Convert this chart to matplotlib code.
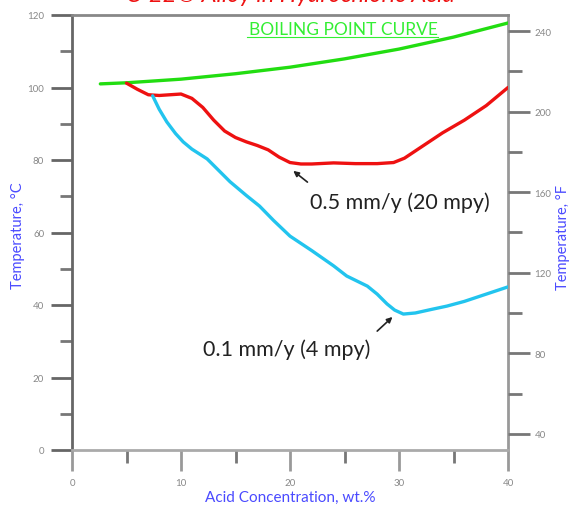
import matplotlib
matplotlib.use("Agg")
import matplotlib.pyplot as plt
from matplotlib.ticker import MultipleLocator

plt.rcParams['font.family'] = ['Lato', 'DejaVu Sans']

# Data (acid concentration wt.% , temperature degC)
boil_x = [2.6, 5, 10, 15, 20, 25, 30, 35, 40]
boil_t = [101.0, 101.3, 102.3, 103.8, 105.6, 107.9, 110.6, 113.9, 117.8]

red_x = [5.0, 6.0, 7.0, 8.0, 9.0, 10.0, 11.0, 12.0, 13.0, 14.0, 15.0, 16.0, 17.0, 18.0,
         19.0, 20.0, 21.0, 22.0, 24.0, 26.0, 28.0, 29.5, 30.5, 31.5, 32.5, 34.0, 36.0, 38.0, 40.0]
red_t = [101.2, 99.5, 98.0, 97.8, 98.0, 98.2, 97.0, 94.5, 91.0, 88.0, 86.2, 85.0, 84.0, 82.8,
         80.8, 79.3, 78.9, 78.9, 79.2, 79.0, 79.0, 79.3, 80.5, 82.5, 84.5, 87.5, 91.0, 95.0, 100.0]

cyan_x = [7.4, 8.0, 8.7, 9.5, 10.2, 11.0, 12.4, 13.0, 14.5, 16.0, 17.2, 18.5, 20.0, 22.0,
          24.0, 25.2, 27.1, 28.0, 28.9, 29.6, 30.4, 31.5, 33.0, 34.4, 36.0, 38.0, 40.0]
cyan_t = [97.7, 94.0, 90.5, 87.3, 85.0, 83.0, 80.3, 78.5, 74.0, 70.2, 67.3, 63.3, 59.0, 55.0,
          50.8, 48.0, 45.2, 43.0, 40.3, 38.6, 37.5, 37.8, 38.8, 39.7, 41.0, 43.0, 45.0]

fig = plt.figure(figsize=(5.7, 5.06), dpi=100)
ax = fig.add_axes([72/570, 55/506, 436/570, 435/506])

ax.plot(boil_x, boil_t, color='#22dd11', lw=2.4, solid_capstyle='round', zorder=3)
ax.plot(red_x, red_t, color='#ee1111', lw=2.4, solid_capstyle='round', zorder=3)
ax.plot(cyan_x, cyan_t, color='#22c4ee', lw=2.4, solid_capstyle='round', zorder=3)

ax.set_xlim(0, 40)
ax.set_ylim(0, 120)

ax.xaxis.set_major_locator(MultipleLocator(10))
ax.xaxis.set_minor_locator(MultipleLocator(5))
ax.yaxis.set_major_locator(MultipleLocator(20))
ax.yaxis.set_minor_locator(MultipleLocator(10))

ax.tick_params(axis='both', which='major', direction='out', length=15, width=2,
               colors='#888888', labelsize=7, labelcolor='#888888', pad=5)
ax.tick_params(axis='both', which='minor', direction='out', length=9, width=2,
               colors='#777777')
ax.tick_params(axis='x', which='major', color='#999999')
ax.tick_params(axis='y', which='major', color='#666666')

for side, c in [('left', '#666666'), ('top', '#888888'), ('bottom', '#aaaaaa'), ('right', '#999999')]:
    ax.spines[side].set_color(c)
    ax.spines[side].set_linewidth(2)

ax.set_xlabel('Acid Concentration, wt.%', color='#4a4aff', fontsize=11, labelpad=2)

ax2 = ax.twinx()
ax2.set_ylim(0 * 1.8 + 32, 120 * 1.8 + 32)
ax2.yaxis.set_major_locator(MultipleLocator(40))
ax2.yaxis.set_minor_locator(MultipleLocator(20))
ax2.tick_params(axis='y', which='major', direction='out', length=16, width=2,
                colors='#777777', labelsize=7, labelcolor='#888888', pad=3)
ax2.tick_params(axis='y', which='minor', direction='out', length=10, width=2,
                colors='#777777')
for s in ax2.spines.values():
    s.set_visible(False)

fig.text(18/570, 1 - 236/506, 'Temperature, °C', color='#4a4aff', fontsize=10.5,
         rotation=90, ha='center', va='center')
fig.text(563/570, 1 - 238/506, 'Temperature, °F', color='#4a4aff', fontsize=10.5,
         rotation=90, ha='center', va='center')

ax.text(24.9, 116.1, 'BOILING POINT CURVE', color='#33ee33', fontsize=12.5,
        ha='center', va='center')
ax.plot([16.1, 33.6], [114.0, 114.0], color='#33ee33', lw=0.8)

# arrows
ax.annotate('', xy=(20.3, 77.0), xytext=(21.6, 73.9),
            arrowprops=dict(arrowstyle='-|>', color='#222222', lw=1.2,
                            mutation_scale=8, shrinkA=0, shrinkB=0))
ax.annotate('', xy=(29.4, 36.7), xytext=(28.0, 32.8),
            arrowprops=dict(arrowstyle='-|>', color='#222222', lw=1.2,
                            mutation_scale=8, shrinkA=0, shrinkB=0))
ax.text(21.8, 68.4, '0.5 mm/y (20 mpy)', fontsize=15.5, color='#222222',
        ha='left', va='center')
ax.text(12.0, 27.9, '0.1 mm/y (4 mpy)', fontsize=15.5, color='#222222',
        ha='left', va='center')

fig.text(290/570, 1 - 2/506, 'C-22® Alloy in Hydrochloric Acid', color='#ee1111',
         fontsize=17, ha='center', va='baseline', style='italic')

fig.savefig('out.png', dpi=100)
